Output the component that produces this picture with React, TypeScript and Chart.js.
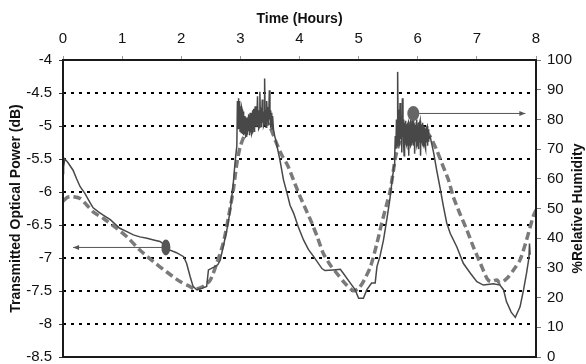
import React, { useEffect, useRef } from "react";
import { Chart, registerables } from "chart.js";

Chart.register(...registerables);

// Transmitted optical power [hours, dB]
const powerTrace: [number, number][] = [
  [0.0, -5.72], [0.01, -5.62], [0.03, -5.5], [0.08, -5.55], [0.17, -5.67], [0.23, -5.8],
  [0.29, -5.92], [0.37, -6.02], [0.45, -6.15], [0.51, -6.24], [0.6, -6.3], [0.68, -6.35],
  [0.8, -6.42], [0.96, -6.55], [1.08, -6.6], [1.19, -6.65], [1.3, -6.68], [1.42, -6.7],
  [1.55, -6.73], [1.64, -6.75], [1.72, -6.8], [1.81, -6.88], [1.92, -6.92], [2.04, -6.98],
  [2.09, -7.08], [2.15, -7.28], [2.2, -7.43], [2.26, -7.48], [2.35, -7.46], [2.43, -7.43],
  [2.46, -7.18], [2.57, -7.13], [2.62, -7.1], [2.66, -7.03], [2.71, -6.83], [2.77, -6.58],
  [2.83, -6.27], [2.88, -5.87], [2.91, -5.55], [2.94, -5.3],
  [2.95, -4.62], [2.955, -5.0], [2.96, -4.95], [2.965, -4.6], [2.97, -4.58], [2.975, -5.05],
  [2.98, -4.9], [2.985, -4.62], [2.99, -4.65], [2.995, -5.08], [3.0, -5.0],
  [3.01, -4.7], [3.015, -5.1], [3.02, -5.05], [3.025, -4.72], [3.03, -4.75], [3.035, -5.12],
  [3.04, -5.1], [3.045, -4.78], [3.05, -4.8], [3.055, -5.14], [3.06, -5.12],
  [3.07, -4.85], [3.075, -5.12], [3.08, -5.08], [3.085, -4.86], [3.09, -4.88], [3.095, -5.16],
  [3.1, -5.15], [3.105, -4.88], [3.11, -4.9], [3.115, -5.12], [3.12, -5.1],
  [3.13, -4.86], [3.135, -5.08], [3.14, -5.05], [3.145, -4.84], [3.15, -4.85], [3.155, -5.14],
  [3.16, -5.12], [3.165, -4.8], [3.17, -4.82], [3.175, -5.05], [3.18, -5.02],
  [3.19, -4.8], [3.195, -5.12], [3.2, -5.1], [3.205, -4.76], [3.21, -4.78], [3.215, -5.04],
  [3.22, -5.0], [3.225, -4.74], [3.23, -4.75], [3.235, -5.08], [3.24, -5.05],
  [3.25, -4.7], [3.255, -5.0], [3.26, -4.95], [3.265, -4.7], [3.27, -4.72], [3.275, -5.02],
  [3.28, -5.0], [3.29, -4.55], [3.3, -4.95], [3.305, -4.76],
  [3.31, -4.78], [3.315, -5.04], [3.32, -5.02], [3.33, -4.48], [3.34, -4.92], [3.345, -4.74],
  [3.35, -4.75], [3.355, -5.02], [3.36, -5.0],
  [3.37, -4.6], [3.38, -4.95], [3.385, -4.78], [3.39, -4.8], [3.395, -5.0], [3.4, -4.98],
  [3.41, -4.28], [3.42, -4.9], [3.425, -4.76],
  [3.43, -4.78], [3.435, -5.02], [3.44, -5.0], [3.45, -4.62], [3.46, -4.92], [3.465, -4.74],
  [3.47, -4.75], [3.475, -4.98], [3.48, -4.95],
  [3.49, -4.46], [3.5, -4.9], [3.505, -4.76], [3.51, -4.78], [3.515, -5.0], [3.52, -4.98],
  [3.53, -4.8], [3.535, -5.04], [3.54, -5.02],
  [3.55, -4.85], [3.56, -5.05], [3.58, -5.15], [3.6, -5.22],
  [3.67, -5.52], [3.73, -5.82], [3.79, -6.02], [3.84, -6.2], [3.9, -6.32], [3.98, -6.53],
  [4.07, -6.73], [4.15, -6.87], [4.24, -6.98], [4.38, -7.16], [4.43, -7.19], [4.57, -7.18],
  [4.69, -7.17], [4.74, -7.23], [4.86, -7.38], [4.94, -7.48], [5.0, -7.61], [5.08, -7.61],
  [5.14, -7.48], [5.22, -7.38], [5.28, -7.38], [5.31, -7.13], [5.36, -6.98], [5.42, -6.73],
  [5.48, -6.4], [5.53, -6.1], [5.57, -5.8], [5.6, -5.6],
  [5.61, -5.45], [5.62, -5.15], [5.63, -5.35], [5.64, -4.9], [5.65, -5.3], [5.66, -4.18],
  [5.67, -5.25], [5.68, -4.75], [5.69, -5.3], [5.7, -4.65], [5.71, -5.2], [5.72, -4.85],
  [5.73, -5.4], [5.74, -4.58], [5.75, -5.15], [5.755, -4.95], [5.76, -4.9], [5.765, -5.3],
  [5.77, -5.45], [5.775, -5.0], [5.78, -4.95], [5.785, -5.25],
  [5.79, -5.2], [5.795, -4.95], [5.8, -4.92], [5.805, -5.28], [5.81, -5.3], [5.815, -5.02],
  [5.82, -5.0], [5.825, -5.3], [5.83, -5.25], [5.835, -4.98], [5.84, -4.95],
  [5.845, -5.35], [5.85, -5.45], [5.855, -5.02], [5.86, -5.0], [5.865, -5.25], [5.87, -5.22],
  [5.875, -4.95], [5.88, -4.9], [5.885, -5.3], [5.89, -5.28], [5.895, -4.98], [5.9, -4.95],
  [5.905, -5.25], [5.91, -5.2], [5.915, -4.9], [5.92, -4.85], [5.925, -5.28], [5.93, -5.3],
  [5.935, -5.02], [5.94, -5.0], [5.945, -5.35], [5.95, -5.42], [5.955, -5.0], [5.96, -4.98],
  [5.965, -5.24], [5.97, -5.2], [5.975, -4.94], [5.98, -4.9], [5.985, -5.28], [5.99, -5.25],
  [5.995, -5.02], [6.0, -5.0], [6.005, -5.3], [6.01, -5.35], [6.015, -4.98], [6.02, -4.95],
  [6.025, -5.24], [6.03, -5.2], [6.035, -4.95], [6.04, -4.92], [6.045, -5.38], [6.05, -5.45],
  [6.055, -5.02], [6.06, -5.0], [6.065, -5.26], [6.07, -5.22], [6.075, -4.98], [6.08, -4.95],
  [6.085, -5.28], [6.09, -5.3], [6.095, -5.02], [6.1, -5.0], [6.105, -5.28], [6.11, -5.25],
  [6.115, -5.04], [6.12, -5.02], [6.125, -5.32], [6.13, -5.35], [6.135, -5.06], [6.14, -5.05],
  [6.145, -5.25], [6.15, -5.22], [6.155, -5.02], [6.16, -5.0], [6.165, -5.3], [6.17, -5.28],
  [6.175, -5.06], [6.18, -5.05], [6.185, -5.24], [6.19, -5.2], [6.21, -5.16],
  [6.27, -5.41], [6.32, -5.67], [6.38, -5.95], [6.43, -6.2], [6.49, -6.47], [6.55, -6.63],
  [6.66, -6.83], [6.77, -7.08], [6.89, -7.23], [7.0, -7.36], [7.11, -7.41], [7.28, -7.39],
  [7.39, -7.41], [7.45, -7.48], [7.5, -7.66], [7.58, -7.82], [7.65, -7.9], [7.73, -7.74],
  [7.79, -7.48], [7.84, -7.23], [7.88, -7.0], [7.89, -6.78], [7.9, -6.95],
];

// Relative humidity [hours, %]
const humidityTrace: [number, number][] = [
  [0.0, 52.5], [0.08, 53.8], [0.17, 54], [0.29, 53.4], [0.4, 51.2], [0.51, 48.9],
  [0.68, 46.7], [0.91, 43.3], [1.08, 40.5], [1.3, 36], [1.53, 32.1], [1.75, 28.7],
  [1.98, 25.4], [2.15, 23.7], [2.23, 22.8], [2.37, 23.7], [2.49, 25.9], [2.6, 31.5],
  [2.71, 38.3], [2.8, 47.2], [2.88, 56.2], [2.94, 65.2], [3.0, 71], [3.1, 76],
  [3.2, 78.5], [3.3, 79.5], [3.4, 80], [3.5, 77.5], [3.6, 72.5], [3.7, 68],
  [3.8, 64.5], [3.9, 59.5], [4.0, 54.5], [4.1, 50], [4.2, 45.5], [4.3, 40.5],
  [4.4, 35], [4.52, 31], [4.63, 28.2], [4.77, 24.8], [4.91, 22.3], [5.0, 23.1],
  [5.08, 25.4], [5.2, 30.4], [5.31, 38.3], [5.39, 45], [5.48, 51.8], [5.53, 55.5],
  [5.59, 63], [5.62, 67], [5.7, 73], [5.8, 77.5], [5.9, 79], [6.0, 78.5],
  [6.1, 77], [6.21, 74.2], [6.32, 69.7], [6.43, 64.1], [6.52, 59.6], [6.6, 54],
  [6.71, 48.4], [6.83, 42.8], [6.94, 37.1], [7.06, 31.5], [7.17, 26.5], [7.23, 25.4],
  [7.34, 25.9], [7.39, 24.8], [7.51, 26.5], [7.62, 29.3], [7.73, 32.7], [7.84, 39.4],
  [7.95, 47.2], [8.0, 49.5],
];

const gridDb = [-4.5, -5, -5.5, -6, -6.5, -7, -7.5, -8];
const xTitle = "Time (Hours)";
const yTitle = "Transmitted Optical Power (dB)";
const y2Title = "%Relative Humidity";
// marker positions: [hours, value, arrow end hours]
const powerMarker = [1.74, -6.84, 0.17];
const humidityMarker = [5.925, 82, 7.82];

const FONT = "Arial, 'Liberation Sans', sans-serif";

const decor = {
  id: "decor",
  beforeDatasetsDraw(chart: any) {
    const { ctx, chartArea: a, scales } = chart;
    ctx.save();
    ctx.strokeStyle = "#000";
    ctx.lineWidth = 2;
    ctx.setLineDash([3, 5]);
    for (const v of gridDb) {
      const py = Math.round(scales.y.getPixelForValue(v));
      ctx.beginPath();
      ctx.moveTo(a.left, py);
      ctx.lineTo(a.right, py);
      ctx.stroke();
    }
    ctx.restore();
  },
  afterDatasetsDraw(chart: any) {
    const { ctx, chartArea: a, scales } = chart;
    const x = scales.x, y = scales.y, y1 = scales.y1;
    ctx.save();
    ctx.strokeStyle = "#1a1a1a";
    ctx.lineWidth = 2;
    ctx.strokeRect(a.left, a.top, a.right - a.left, a.bottom - a.top);

    const arrow = (x0: number, x1: number, py: number) => {
      ctx.strokeStyle = "#555";
      ctx.fillStyle = "#555";
      ctx.lineWidth = 1;
      ctx.beginPath();
      ctx.moveTo(x0, py);
      ctx.lineTo(x1, py);
      ctx.stroke();
      const d = x1 > x0 ? 1 : -1;
      ctx.beginPath();
      ctx.moveTo(x1, py);
      ctx.lineTo(x1 - d * 6, py - 2.5);
      ctx.lineTo(x1 - d * 6, py + 2.5);
      ctx.closePath();
      ctx.fill();
    };
    {
      const px = x.getPixelForValue(powerMarker[0]);
      const py = y.getPixelForValue(powerMarker[1]);
      arrow(px - 4, x.getPixelForValue(powerMarker[2]), py);
      ctx.fillStyle = "#555";
      ctx.beginPath();
      ctx.ellipse(px, py, 4.5, 8, 0, 0, Math.PI * 2);
      ctx.fill();
    }
    {
      const px = x.getPixelForValue(humidityMarker[0]);
      const py = y1.getPixelForValue(humidityMarker[1]);
      arrow(px + 5, x.getPixelForValue(humidityMarker[2]), py);
      ctx.fillStyle = "#666";
      ctx.beginPath();
      ctx.ellipse(px, py, 6, 7.5, 0, 0, Math.PI * 2);
      ctx.fill();
    }
    ctx.translate(578, (a.top + a.bottom) / 2);
    ctx.rotate(-Math.PI / 2);
    ctx.fillStyle = "#111";
    ctx.font = `bold 14px ${FONT}`;
    ctx.textAlign = "center";
    ctx.textBaseline = "middle";
    ctx.fillText(y2Title, 0, 0);
    ctx.restore();
  },
};

export default function App() {
  const ref = useRef<HTMLCanvasElement>(null);
  useEffect(() => {
    if (!ref.current) return;
    const chart = new Chart(ref.current, {
      type: "line",
      data: {
        datasets: [
          {
            label: "Power",
            data: powerTrace.map(([h, v]) => ({ x: h, y: v })),
            xAxisID: "x",
            yAxisID: "y",
            borderColor: "#484848",
            borderWidth: 1.5,
            pointRadius: 0,
            tension: 0,
            order: 1,
          },
          {
            label: "Humidity",
            data: humidityTrace.map(([h, v]) => ({ x: h, y: v })),
            xAxisID: "x",
            yAxisID: "y1",
            borderColor: "#7a7a7a",
            borderWidth: 3.5,
            borderDash: [8, 4],
            pointRadius: 0,
            tension: 0.25,
            order: 2,
          },
        ],
      },
      options: {
        responsive: true,
        maintainAspectRatio: false,
        animation: false,
        layout: { padding: { left: 0, right: 0, top: 0, bottom: 7 } },
        plugins: { legend: { display: false }, tooltip: { enabled: false } },
        scales: {
          x: {
            type: "linear",
            position: "top",
            min: 0,
            max: 8,
            ticks: { stepSize: 1, padding: 8, color: "#111", font: { family: FONT, size: 15 }, callback: (v: any) => String(v) },
            grid: { drawOnChartArea: false, drawTicks: true, tickLength: 4, color: "#999" },
            border: { display: false },
            title: {
              display: true,
              text: xTitle,
              color: "#111",
              font: { family: FONT, size: 14, weight: "bold" },
              padding: { top: 11, bottom: 0 },
            },
            afterFit: (s: any) => {
              s.height = 60;
              s.paddingLeft = 0;
              s.paddingRight = 0;
            },
          },
          y: {
            type: "linear",
            position: "left",
            min: -8.5,
            max: -4,
            ticks: { stepSize: 0.5, padding: 7, color: "#111", font: { family: FONT, size: 15 }, callback: (v: any) => String(v) },
            grid: { drawOnChartArea: false, drawTicks: true, tickLength: 4, color: "#333" },
            border: { display: false },
            title: {
              display: true,
              text: yTitle,
              color: "#111",
              font: { family: FONT, size: 14, weight: "bold" },
              padding: { top: 8, bottom: 0 },
            },
            afterFit: (s: any) => {
              s.width = 63;
              s.paddingTop = 0;
              s.paddingBottom = 0;
            },
          },
          y1: {
            type: "linear",
            position: "right",
            min: 0,
            max: 100,
            ticks: { stepSize: 10, padding: 6, color: "#111", font: { family: FONT, size: 15 }, callback: (v: any) => String(v) },
            grid: { drawOnChartArea: false, drawTicks: true, tickLength: 5, color: "#777" },
            border: { display: false },
            afterFit: (s: any) => {
              s.width = 50;
              s.paddingTop = 0;
              s.paddingBottom = 0;
            },
          },
        },
      } as any,
      plugins: [decor],
    });
    return () => chart.destroy();
  }, []);
  return (
    <div style={{ position: "absolute", left: 0, top: 0, width: 586, height: 364, background: "#fff" }}>
      <canvas ref={ref} />
    </div>
  );
}
